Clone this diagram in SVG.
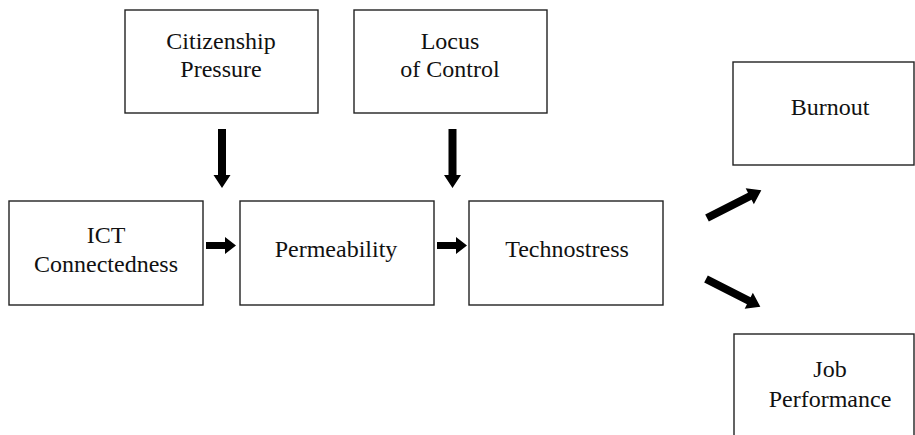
<svg xmlns="http://www.w3.org/2000/svg" width="915" height="435" viewBox="0 0 915 435">
<style>
.box{fill:#fff;stroke:#222;stroke-width:1.4}
.t{font-family:"Liberation Serif","Times New Roman",serif;font-size:24px;fill:#111;text-anchor:middle}
.arr{fill:#000}
</style>
<defs>
<polygon id="arrH" points="0,-3.5 19,-3.5 19,-8.5 30,0 19,8.5 19,3.5 0,3.5"/>
<polygon id="arrV" points="-4,0 4,0 4,46 8.5,46 0,59 -8.5,46 -4,46"/>
<polygon id="arrD" points="0,-4 48,-4 48,-9 61,0 48,9 48,4 0,4"/>
</defs>
<rect width="915" height="435" fill="#fff"/>
<g id="citizenship"><rect class="box" x="125" y="10" width="193" height="103"/><text class="t" x="221" y="49">Citizenship</text><text class="t" x="221" y="77">Pressure</text></g>
<g id="locus"><rect class="box" x="354" y="10" width="193" height="103"/><text class="t" x="450" y="49">Locus</text><text class="t" x="450" y="77">of Control</text></g>
<g id="ict"><rect class="box" x="9" y="201" width="194" height="104"/><text class="t" x="106" y="243">ICT</text><text class="t" x="106" y="272">Connectedness</text></g>
<g id="permeability"><rect class="box" x="240" y="201" width="194" height="104"/><text class="t" x="336" y="257">Permeability</text></g>
<g id="technostress"><rect class="box" x="469" y="201" width="194" height="104"/><text class="t" x="567" y="257">Technostress</text></g>
<g id="burnout"><rect class="box" x="733" y="62" width="181" height="103"/><text class="t" x="830" y="115">Burnout</text></g>
<g id="job"><rect class="box" x="734" y="334" width="180" height="110"/><text class="t" x="830" y="377">Job</text><text class="t" x="830" y="407">Performance</text></g>
<g id="connectors" class="arr">
<use href="#arrV" x="222" y="129"/>
<use href="#arrV" x="452.5" y="129"/>
<use href="#arrH" x="206" y="245.5"/>
<use href="#arrH" x="437" y="245.5"/>
<use href="#arrD" transform="translate(707,218) rotate(-27)"/>
<use href="#arrD" transform="translate(706,279) rotate(27)"/>
</g>
</svg>
